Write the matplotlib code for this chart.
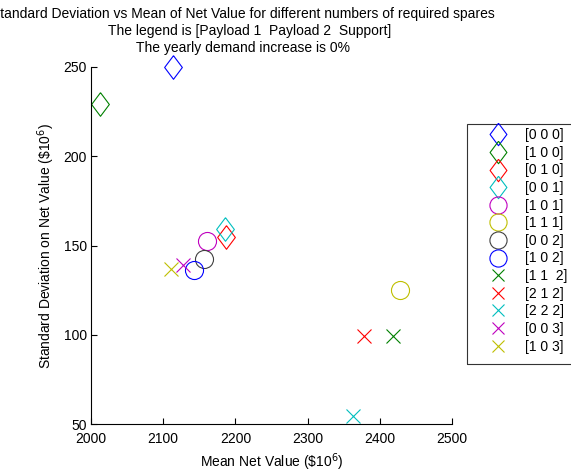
import numpy as np
import matplotlib
matplotlib.use('Agg')
import matplotlib.pyplot as plt
from matplotlib.patches import Rectangle

# spares combinations [Payload 1  Payload 2  Support]
labels = ['[0 0 0]', '[1 0 0]', '[0 1 0]', '[0 0 1]', '[1 0 1]', '[1 1 1]', '[0 0 2]',
          '[1 0 2]', '[1 1  2]', '[2 1 2]', '[2 2 2]', '[0 0 3]', '[1 0 3]']
mean_value = [2113.6, 2012.5, 2187.0, 2186.0, 2161.0, 2428.4, 2157.0,
              2142.0, 2418.7, 2378.5, 2362.4, 2127.0, 2110.3]
std_value = [250.0, 229.3, 155.0, 159.1, 152.7, 125.1, 142.4,
             136.3, 99.3, 99.3, 54.5, 139.0, 137.0]
markers = ['diamond'] * 4 + ['o'] * 4 + ['x'] * 5
colors = ['b', 'g', 'r', 'c', 'm', 'y', 'k', 'b', 'g', 'r', 'c', 'm', 'y']

xticks = [2000, 2100, 2200, 2300, 2400, 2500]
yticks = [50, 100, 150, 200, 250]

# matlab style colours
matlab_col = {'b': (0, 0, 1), 'g': (0, 0.5, 0), 'r': (1, 0, 0), 'c': (0, 0.75, 0.75),
              'm': (0.75, 0, 0.75), 'y': (0.75, 0.75, 0), 'k': (0.25, 0.25, 0.25)}
diamond = [(0, 1), (0.75, 0), (0, -1), (-0.75, 0), (0, 1)]
msize = {'diamond': 17, 'o': 13, 'x': 9.5}

plt.rcParams['font.family'] = ['Liberation Sans', 'DejaVu Sans']
plt.rcParams['font.size'] = 10

fig = plt.figure(figsize=(5.71, 4.72), dpi=100)
ax = fig.add_axes([91 / 571., 48 / 472., 361 / 571., 357 / 472.])

handles = []
for i in range(len(labels)):
    mk = diamond if markers[i] == 'diamond' else markers[i]
    h, = ax.plot(mean_value[i], std_value[i], linestyle='none', marker=mk,
                 markersize=msize[markers[i]], markerfacecolor='none',
                 markeredgecolor=matlab_col[colors[i]], markeredgewidth=0.8,
                 color=matlab_col[colors[i]], label=labels[i], clip_on=False)
    handles.append(h)

ax.set_xlim(2000, 2500)
ax.set_ylim(50, 250)
ax.set_xticks(xticks)
ax.set_yticks(yticks)
ax.tick_params(direction='in', length=4, width=0.8)
ax.tick_params(axis='x', pad=6)
ax.tick_params(axis='y', pad=3)
ax.spines['top'].set_visible(False)
ax.spines['right'].set_visible(False)
ax.spines['left'].set_linewidth(0.8)
ax.spines['bottom'].set_linewidth(0.8)
ax.set_xlabel('Mean Net Value (\\$10$^6$)', labelpad=4)
ax.set_ylabel('Standard Deviation on Net Value (\\$10$^6$)', labelpad=5)

fig.text(243 / 571., 1 - 14 / 472., 'Standard Deviation vs Mean of Net Value for different numbers of required spares',
         ha='center', va='center')
fig.text(250 / 571., 1 - 31 / 472., 'The legend is [Payload 1  Payload 2  Support]', ha='center', va='center')
fig.text(243 / 571., 1 - 48 / 472., 'The yearly demand increase is 0%', ha='center', va='center')

leg = fig.legend(handles=handles, loc='upper left', bbox_to_anchor=(467 / 571., 1 - 124 / 472.),
                 bbox_transform=fig.transFigure, borderaxespad=0, frameon=False,
                 labelspacing=0.26, handlelength=3.9, handletextpad=0.0,
                 borderpad=0.3, markerscale=0.95)

# legend box runs off the right edge of the figure
fig.patches.append(Rectangle((467 / 571., 1 - 364 / 472.), 120 / 571., 240 / 472.,
                             transform=fig.transFigure, fill=False, edgecolor='0.2',
                             linewidth=0.8, clip_on=False))

fig.savefig('out.png', dpi=100, facecolor='white')
